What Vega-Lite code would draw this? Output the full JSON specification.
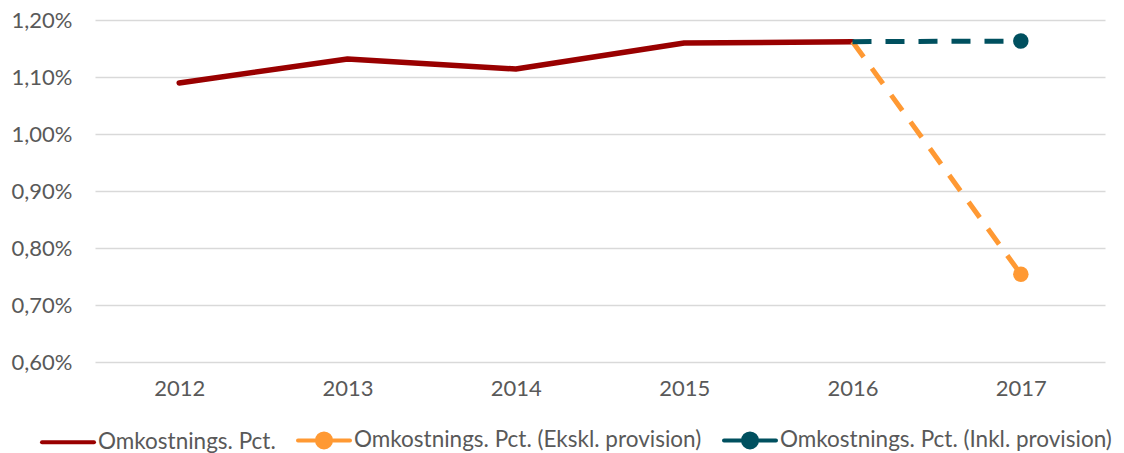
{
  "$schema": "https://vega.github.io/schema/vega-lite/v6.json",
  "width": 1010,
  "height": 342,
  "autosize": {"type": "none"},
  "padding": {"left": 95, "top": 20, "right": 19, "bottom": 91},
  "background": "white",
  "config": {
    "font": "Lato",
    "view": {"stroke": null},
    "axis": {"labelFont": "Lato", "labelFontSize": 22, "labelColor": "#595959", "domain": false, "ticks": false, "tickSize": 0, "title": null},
    "legend": {"labelFont": "Lato", "labelFontSize": 22.5, "labelColor": "#595959", "labelLimit": 500}
  },
  "data": {
    "values": [
      {"serie": "Omkostnings. Pct.", "aar": "2012", "pct": 1.0895},
      {"serie": "Omkostnings. Pct.", "aar": "2013", "pct": 1.1316},
      {"serie": "Omkostnings. Pct.", "aar": "2014", "pct": 1.114},
      {"serie": "Omkostnings. Pct.", "aar": "2015", "pct": 1.1596},
      {"serie": "Omkostnings. Pct.", "aar": "2016", "pct": 1.162},
      {"serie": "Omkostnings. Pct. (Ekskl. provision)", "aar": "2016", "pct": 1.162},
      {"serie": "Omkostnings. Pct. (Ekskl. provision)", "aar": "2017", "pct": 0.754},
      {"serie": "Omkostnings. Pct. (Inkl. provision)", "aar": "2016", "pct": 1.162},
      {"serie": "Omkostnings. Pct. (Inkl. provision)", "aar": "2017", "pct": 1.163}
    ]
  },
  "encoding": {
    "x": {"field": "aar", "type": "ordinal", "scale": {"type": "point", "padding": 0.5, "domain": ["2012", "2013", "2014", "2015", "2016", "2017"]},
      "axis": {"labelAngle": 0, "labelPadding": 16, "grid": false, "labelFontSize": 22}},
    "y": {"field": "pct", "type": "quantitative", "scale": {"domain": [0.6, 1.2], "nice": false, "zero": false},
      "axis": {"values": [0.6, 0.7, 0.8, 0.9, 1.0, 1.1, 1.2], "labelPadding": 23, "grid": true, "gridColor": "#d9d9d9", "gridWidth": 1.3, "labelFontSize": 22,
        "labelExpr": "replace(format(datum.value, '.2f'), '.', ',') + '%'"}},
    "color": {"field": "serie", "type": "nominal",
      "scale": {"domain": ["Omkostnings. Pct.", "Omkostnings. Pct. (Ekskl. provision)", "Omkostnings. Pct. (Inkl. provision)"], "range": ["#990000", "#FF9933", "#00505F"]},
      "legend": {"title": null, "orient": "none", "legendX": -55, "legendY": 392, "direction": "horizontal", "columns": 3, "symbolSize": 2704, "symbolStrokeWidth": 4, "symbolOpacity": 1, "labelOffset": 2, "columnPadding": 14, "labelLimit": 500, "labelFontSize": 22.5,
        "encode": {"symbols": {"update": {
          "shape": {"signal": "datum.value === 'Omkostnings. Pct.' ? 'M-1,0H1' : 'M-1,0H-0.27M-0.27,0A0.27,0.27 0 1,0 0.27,0A0.27,0.27 0 1,0 -0.27,0ZM0.27,0H1'"},
          "fill": {"scale": "color", "field": "value"},
          "stroke": {"scale": "color", "field": "value"},
          "strokeWidth": {"value": 4},
          "opacity": {"value": 1},
          "strokeDash": {"value": []},
          "strokeCap": {"value": "round"}
        }}}}}
  },
  "layer": [
    {
      "transform": [{"filter": "datum.serie === 'Omkostnings. Pct.'"}],
      "mark": {"type": "line", "strokeWidth": 5.5, "strokeCap": "round", "strokeJoin": "round"}
    },
    {
      "transform": [{"filter": "datum.serie !== 'Omkostnings. Pct.'"}],
      "mark": {"type": "line", "strokeWidth": 5, "strokeDash": [19, 14], "strokeCap": "butt"}
    },
    {
      "transform": [{"filter": "datum.serie !== 'Omkostnings. Pct.' && datum.aar === '2017'"}],
      "mark": {"type": "point", "shape": "circle", "filled": true, "opacity": 1, "size": 240}
    }
  ]
}
